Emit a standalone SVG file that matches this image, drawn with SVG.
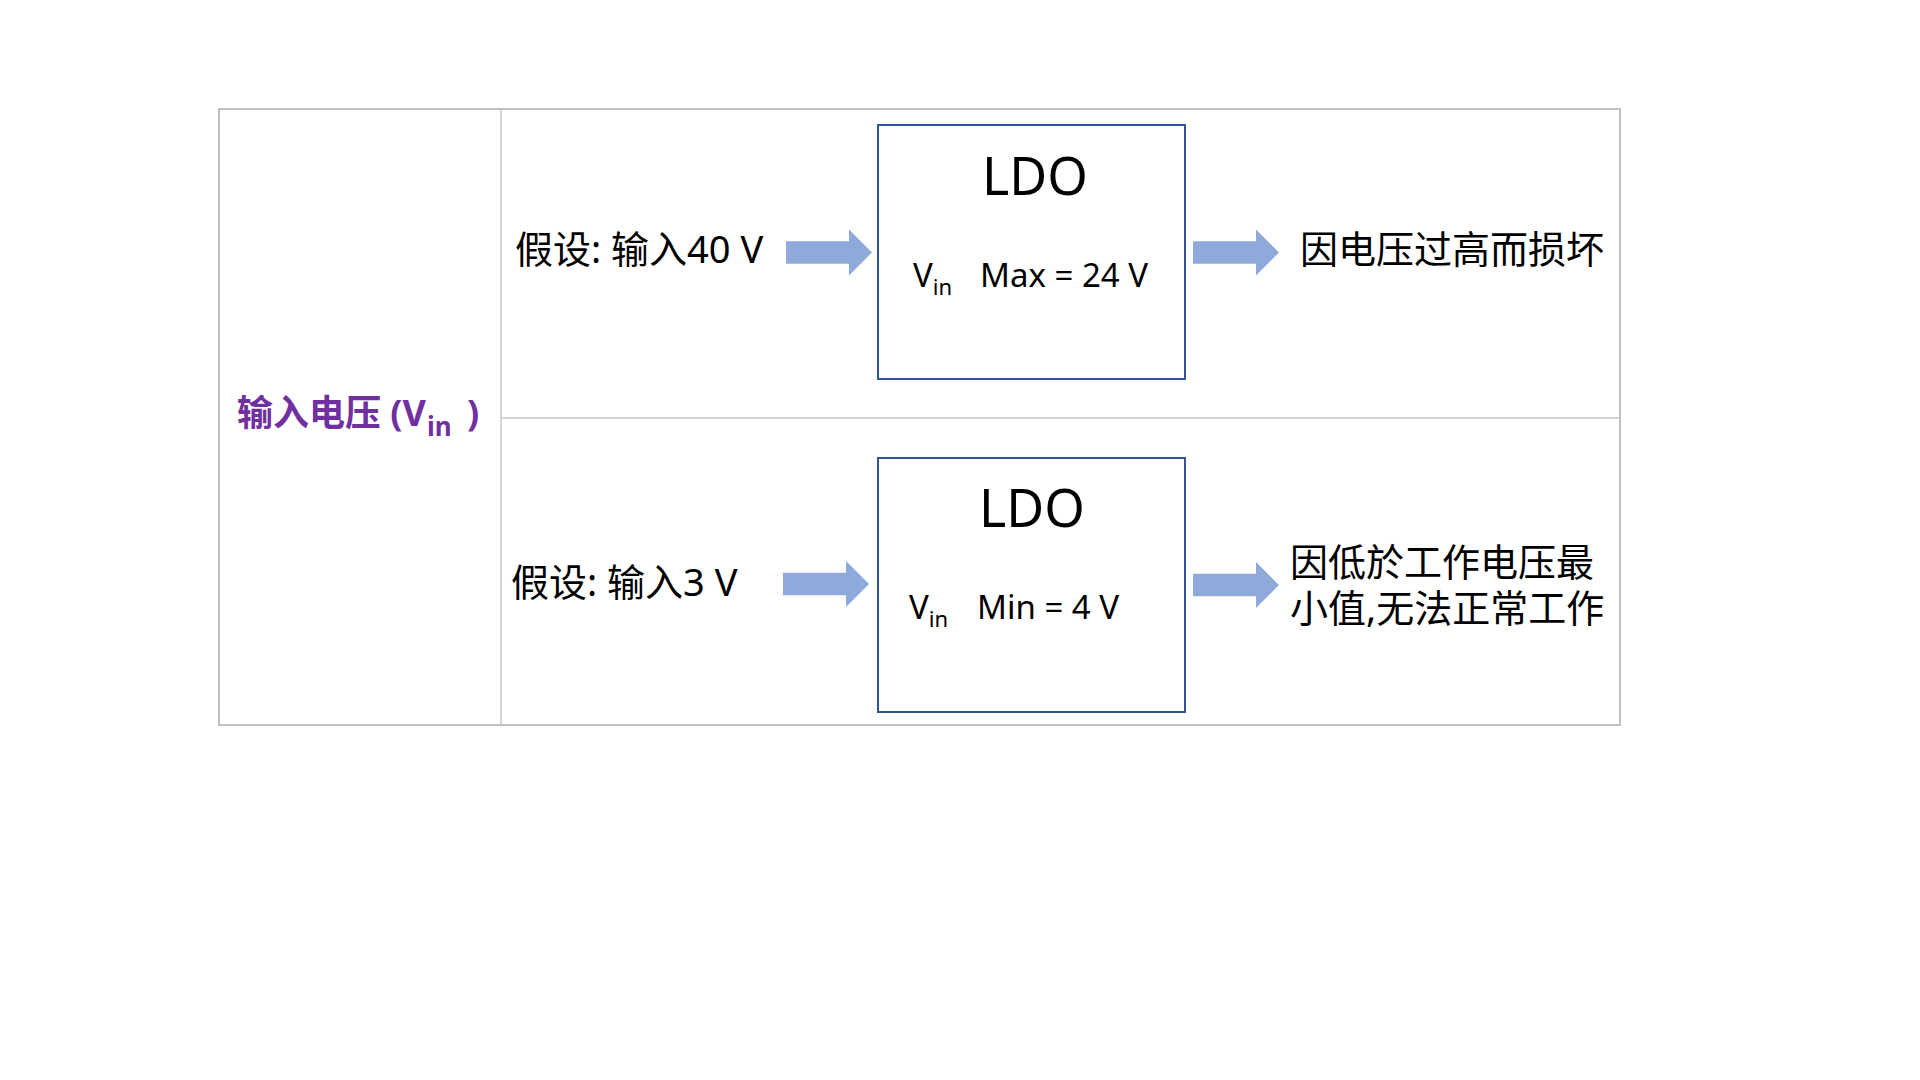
<svg xmlns="http://www.w3.org/2000/svg" width="1920" height="1080" viewBox="0 0 1920 1080">
<defs>
<style>
.cell{fill:none;stroke:#c8c8c8;stroke-width:1.5}
.outer{fill:none;stroke:#bfbfbf;stroke-width:2}
.box{fill:#ffffff;stroke:#2f5597;stroke-width:2}
.arrow{fill:#8eaadb}
.t{font-family:"Noto Sans","Noto Sans CJK SC",sans-serif;fill:#000000}
.lbl{font-size:38px}
.ldo{font-size:52px;text-anchor:middle}
.v{font-size:33px}
.sub{font-size:22px}
.title{font-family:"Noto Sans","Noto Sans CJK SC",sans-serif;font-size:36px;font-weight:bold;fill:#7030a0}
</style>
<path id="blockArrow" d="M0,-11.2 L63,-11.2 L63,-23 L86,0 L63,23 L63,11.2 L0,11.2 Z"/>
</defs>
<rect width="1920" height="1080" fill="#ffffff"/>
<g id="table">
<rect class="outer" x="219" y="109" width="1401" height="616"/>
<line class="cell" x1="501" y1="109" x2="501" y2="725"/>
<line class="cell" x1="501" y1="418" x2="1620" y2="418"/>
</g>
<g id="title">
<text class="title" x="237" y="426">输入电压 (V<tspan font-size="26" dx="1" dy="10">in</tspan><tspan dx="6" dy="-10"> )</tspan></text>
</g>
<g id="input-high">
<text class="t lbl" x="515" y="263">假设: 输入40 V</text>
</g>
<g id="input-low">
<text class="t lbl" x="511" y="596">假设: 输入3 V</text>
</g>
<g id="ldo-top">
<rect class="box" x="878" y="125" width="307" height="254"/>
<text class="t ldo" x="1035" y="195">LDO</text>
<text class="t v" x="913" y="287">V<tspan class="sub" dy="8">in</tspan></text>
<text class="t v" x="980" y="287">Max = 24 V</text>
</g>
<g id="ldo-bottom">
<rect class="box" x="878" y="458" width="307" height="254"/>
<text class="t ldo" x="1032" y="527">LDO</text>
<text class="t v" x="909" y="619">V<tspan class="sub" dy="8">in</tspan></text>
<text class="t v" x="977" y="619">Min = 4 V</text>
</g>
<g id="result-high">
<text class="t lbl" x="1300" y="263">因电压过高而损坏</text>
</g>
<g id="result-low">
<text class="t lbl"><tspan x="1290" y="576">因低於工作电压最</tspan><tspan x="1290" y="622">小值,无法正常工作</tspan></text>
</g>
<g id="connectors">
<use href="#blockArrow" class="arrow" transform="translate(786,252.5)"/>
<use href="#blockArrow" class="arrow" transform="translate(1193,252.5)"/>
<use href="#blockArrow" class="arrow" transform="translate(783,584)"/>
<use href="#blockArrow" class="arrow" transform="translate(1193,585)"/>
</g>
</svg>
